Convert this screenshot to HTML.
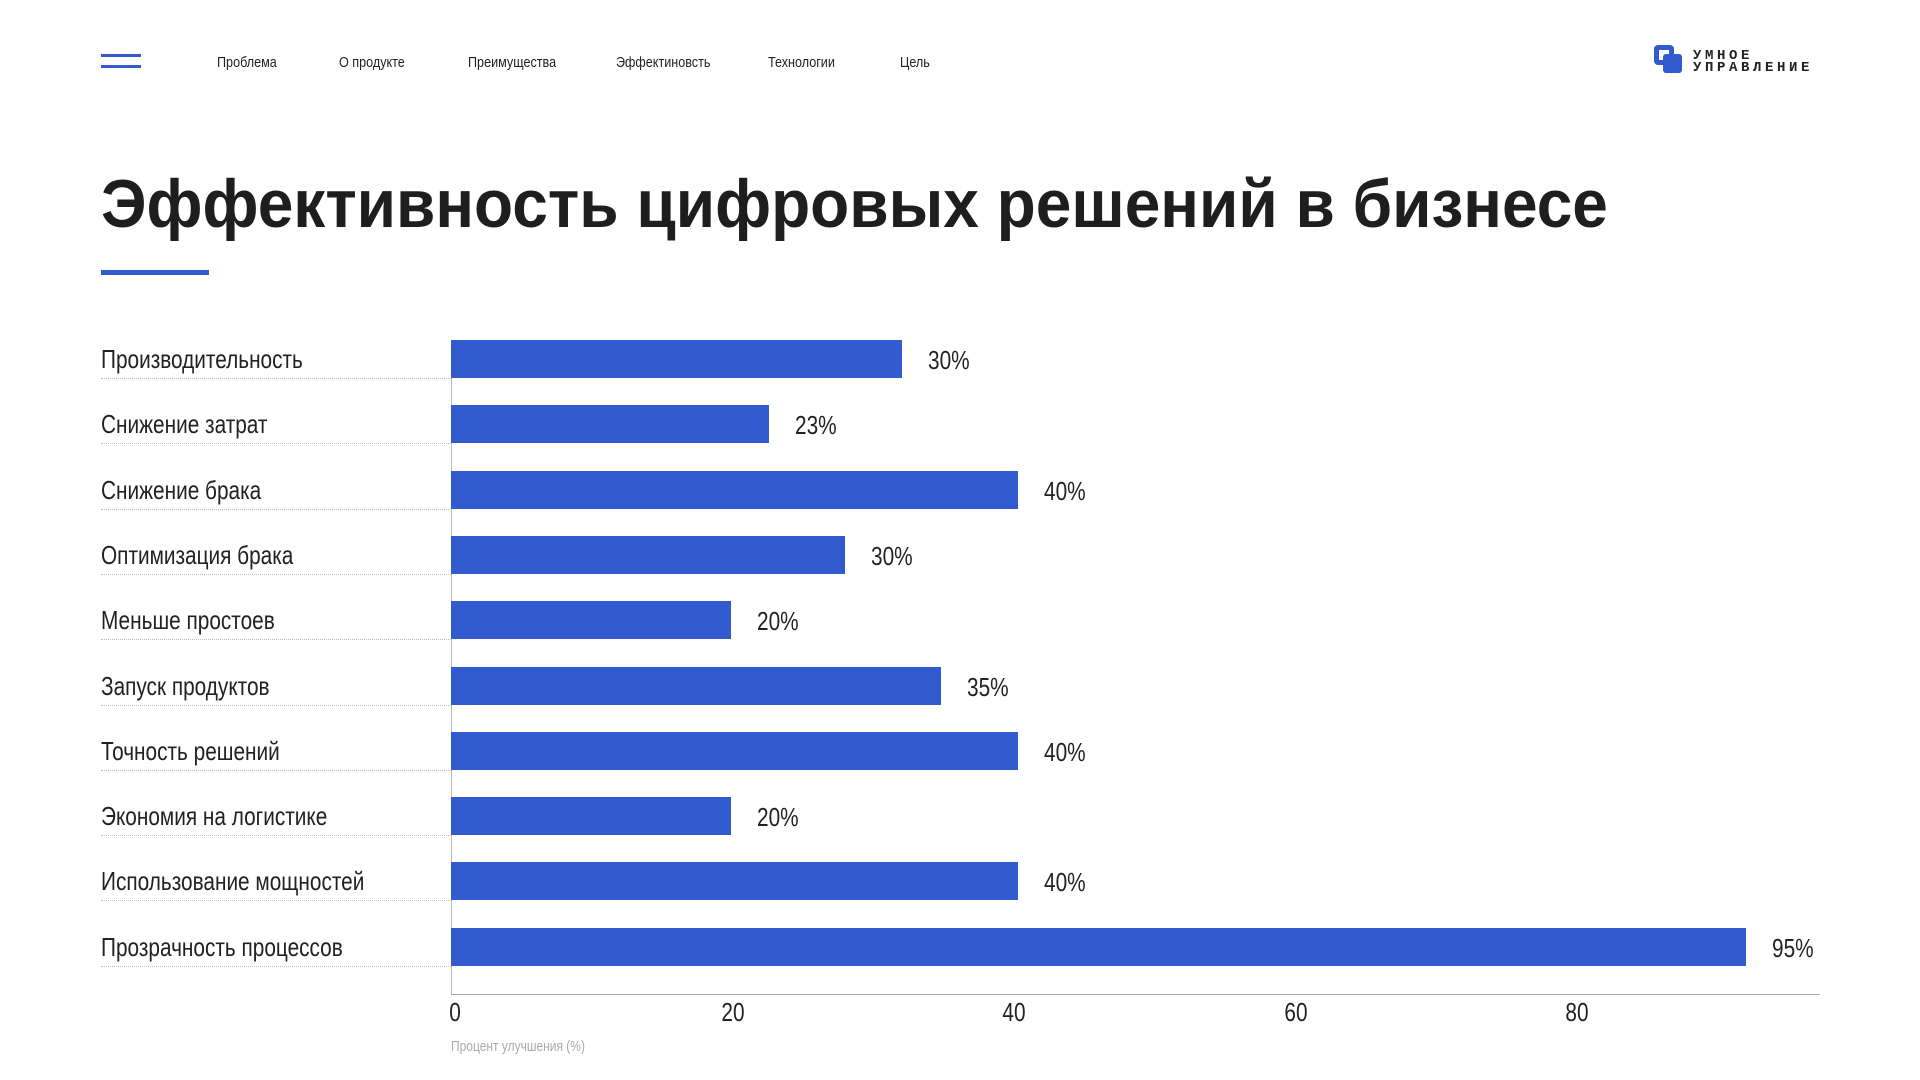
<!DOCTYPE html>
<html><head><meta charset="utf-8"><style>
body{margin:0;width:1920px;height:1080px;background:#fff;position:relative;overflow:hidden;font-family:"Liberation Sans",sans-serif;color:#222}
.a{position:absolute;white-space:nowrap}
.n{transform-origin:left center;transform:scaleX(.84)}
.nav{font-size:15px;top:54px;color:#222}
</style></head><body>
<div class="a" style="left:101px;top:54px;width:40px;height:8px;border-top:3px solid #335bd0;border-bottom:3px solid #335bd0"></div>
<div class="a nav n" style="left:217px">Проблема</div>
<div class="a nav n" style="left:339px">О продукте</div>
<div class="a nav n" style="left:468px">Преимущества</div>
<div class="a nav n" style="left:616px">Эффектиновсть</div>
<div class="a nav n" style="left:768px">Технологии</div>
<div class="a nav n" style="left:900px">Цель</div>
<div class="a" style="left:1654px;top:45px;width:180px;height:32px">
 <div class="a" style="left:0;top:0;width:20px;height:20px;border:5px solid #335bd0;border-radius:4px;box-sizing:border-box"></div>
 <div class="a" style="left:9px;top:9px;width:19px;height:19px;background:#335bd0;border-radius:3px"></div>
 <div class="a" style="left:39px;top:5px;font-size:14px;font-weight:bold;line-height:12px;letter-spacing:3.6px;font-family:'Liberation Mono',monospace;color:#222">УМНОЕ<br>УПРАВЛЕНИЕ</div>
</div>
<div class="a" id="title" style="left:101px;top:164px;font-size:68px;font-weight:bold;line-height:80px;color:#1e1e1e;transform-origin:left top">Эффективность цифровых решений в бизнесе</div>
<div class="a" style="left:101px;top:270px;width:108px;height:5px;background:#335bd0"></div>
<div id="chart"></div>
<script>
const categories=["Производительность","Снижение затрат","Снижение брака","Оптимизация брака","Меньше простоев","Запуск продуктов","Точность решений","Экономия на логистике","Использование мощностей","Прозрачность процессов"];
const values=[32,22.6,40.3,28,19.9,34.8,40.3,19.9,40.3,92];
const valueLabels=["30%","23%","40%","30%","20%","35%","40%","20%","40%","95%"];
const ticks=[0,20,40,60,80];
const X0=451,UNIT=14.08,TOP=340,STEP=65.3,BH=38;
const xs=v=>X0+v*UNIT;
const ch=document.getElementById('chart');
function add(css,text){const d=document.createElement('div');d.className='a';d.style.cssText=css;if(text!=null)d.textContent=text;ch.appendChild(d);return d;}
const ax=add(`left:${X0}px;top:${TOP}px;width:1px;height:${994-TOP}px;background:#bbb`);


const bx=add(`left:${X0}px;top:994px;width:${1820-X0}px;height:1px;background:#aaa`);


categories.forEach((c,i)=>{
 const y=TOP+i*STEP;
 const l=add(`left:101px;top:${y+3}px;font-size:26px;line-height:32px;color:#222;transform-origin:left center;transform:scaleX(.8)`,c);
 
 
 const dl=add(`left:101px;top:${y+BH}px;width:${X0-101}px;border-top:1px dotted #bbb`);
 
 
 const b=add(`left:${X0}px;top:${y}px;width:${xs(values[i])-X0}px;height:${BH}px;background:#335bd0`);
 
 
 const v=add(`left:${xs(values[i])+26}px;top:${y+4}px;font-size:26px;line-height:32px;color:#222;transform-origin:left center;transform:scaleX(.8)`,valueLabels[i]);
 
 
});
ticks.forEach((t,i)=>{
 const d=add(`left:${xs(t)-40}px;width:80px;text-align:center;top:996px;font-size:26px;line-height:32px;color:#222;transform:scaleX(.8)`,String(t));
 if(i===0){d.style.left=(xs(t)-36)+'px';}
 
 
});
const at=add(`left:${X0}px;top:1038px;font-size:15px;color:#aaa;transform-origin:left center;transform:scaleX(.8)`,"Процент улучшения (%)");


const t=document.getElementById('title');
const w=t.scrollWidth;t.style.transform=`scaleX(${1507/w})`;
</script>
</body></html>
